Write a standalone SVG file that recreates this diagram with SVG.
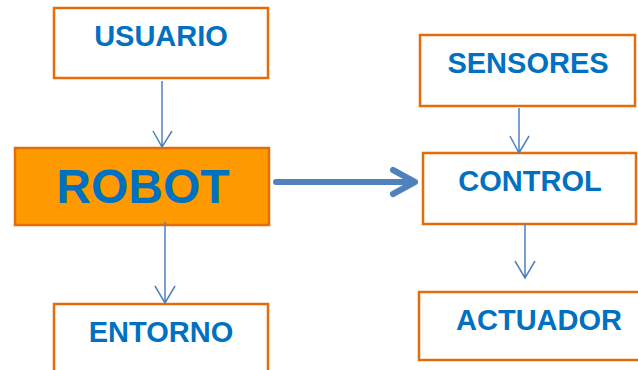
<svg xmlns="http://www.w3.org/2000/svg" width="638" height="370" viewBox="0 0 638 370">
<defs>
<style>
.box{fill:#FFFFFF;stroke:#E46C0A;stroke-width:2.5}
.robot{fill:#FF9900;stroke:#E46C0A;stroke-width:2.5}
.lbl{font-family:"Liberation Sans",Arial,sans-serif;font-weight:bold;fill:#0070C0;text-anchor:middle}
.thin{stroke:#4F81BD;stroke-width:1.5;fill:none}
.thick{stroke:#4F81BD;stroke-width:6;fill:none;stroke-linecap:round;stroke-linejoin:round}
</style>
</defs>
<rect width="638" height="370" fill="#FFFFFF"/>
<g id="usuario">
<rect class="box" x="54" y="8" width="214" height="70"/>
<text class="lbl" x="161" y="46" font-size="29">USUARIO</text>
</g>
<g id="robot">
<rect class="robot" x="15" y="148" width="254" height="77"/>
<text class="lbl" x="143" y="203" font-size="48">ROBOT</text>
</g>
<g id="entorno">
<rect class="box" x="54" y="304" width="214" height="80"/>
<text class="lbl" x="161" y="342" font-size="29">ENTORNO</text>
</g>
<g id="sensores">
<rect class="box" x="420" y="35" width="215" height="71"/>
<text class="lbl" x="528" y="73" font-size="29">SENSORES</text>
</g>
<g id="control">
<rect class="box" x="423" y="153" width="213" height="71"/>
<text class="lbl" x="530" y="191" font-size="29">CONTROL</text>
</g>
<g id="actuador">
<rect class="box" x="419" y="292" width="230" height="68"/>
<text class="lbl" x="539" y="330" font-size="29">ACTUADOR</text>
</g>
<g id="connectors">
<path class="thin" d="M162 81 V147 M153 131 L162 147 L172 131"/>
<path class="thin" d="M165 222 V303 M155 286 L165 303 L175 286"/>
<path class="thin" d="M519 108 V153 M510 136 L519 153 L529 136"/>
<path class="thin" d="M525 224 V278 M515 261 L525 278 L535 261"/>
<path class="thick" d="M276 182 H415 M393 170 L415 182 L393 194"/>
</g>
</svg>
